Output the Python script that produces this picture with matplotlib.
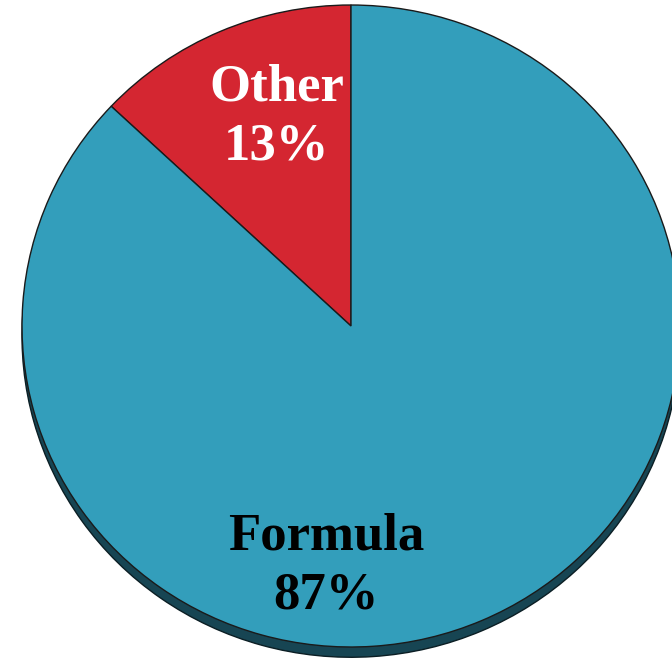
import matplotlib.pyplot as plt

# data
labels = ["Other", "Formula"]
shares = [13, 87]
colors = ["#D42631", "#339EBB"]
text_colors = ["white", "black"]
shadow_color = "#174553"

fig = plt.figure(figsize=(6.72, 6.60), dpi=100)
ax = fig.add_axes([0, 0, 1, 1])

# 3d-ish base under the top face
ax.pie(shares, colors=[shadow_color] * 2, startangle=90, radius=1,
       center=(0, -0.032),
       wedgeprops=dict(edgecolor="#0b1e24", linewidth=1.0))

ax.pie(shares, colors=colors, startangle=90, radius=1, center=(0, 0),
       wedgeprops=dict(edgecolor="#1a1a1a", linewidth=1.0))

ax.set_aspect("auto")
ax.set_xlim(-1.0669, 0.9757)
ax.set_ylim(-1.0405, 1.0156)
ax.axis("off")

label_pos = [(-0.225, 0.652), (-0.075, -0.748)]
for lab, val, tc, (x, y) in zip(labels, shares, text_colors, label_pos):
    ax.text(x, y, f"{lab}\n{val}%", ha="center", va="center", color=tc,
            fontsize=38, fontweight="bold", family="Liberation Serif",
            linespacing=1.3)

fig.savefig("out.png", dpi=100)
